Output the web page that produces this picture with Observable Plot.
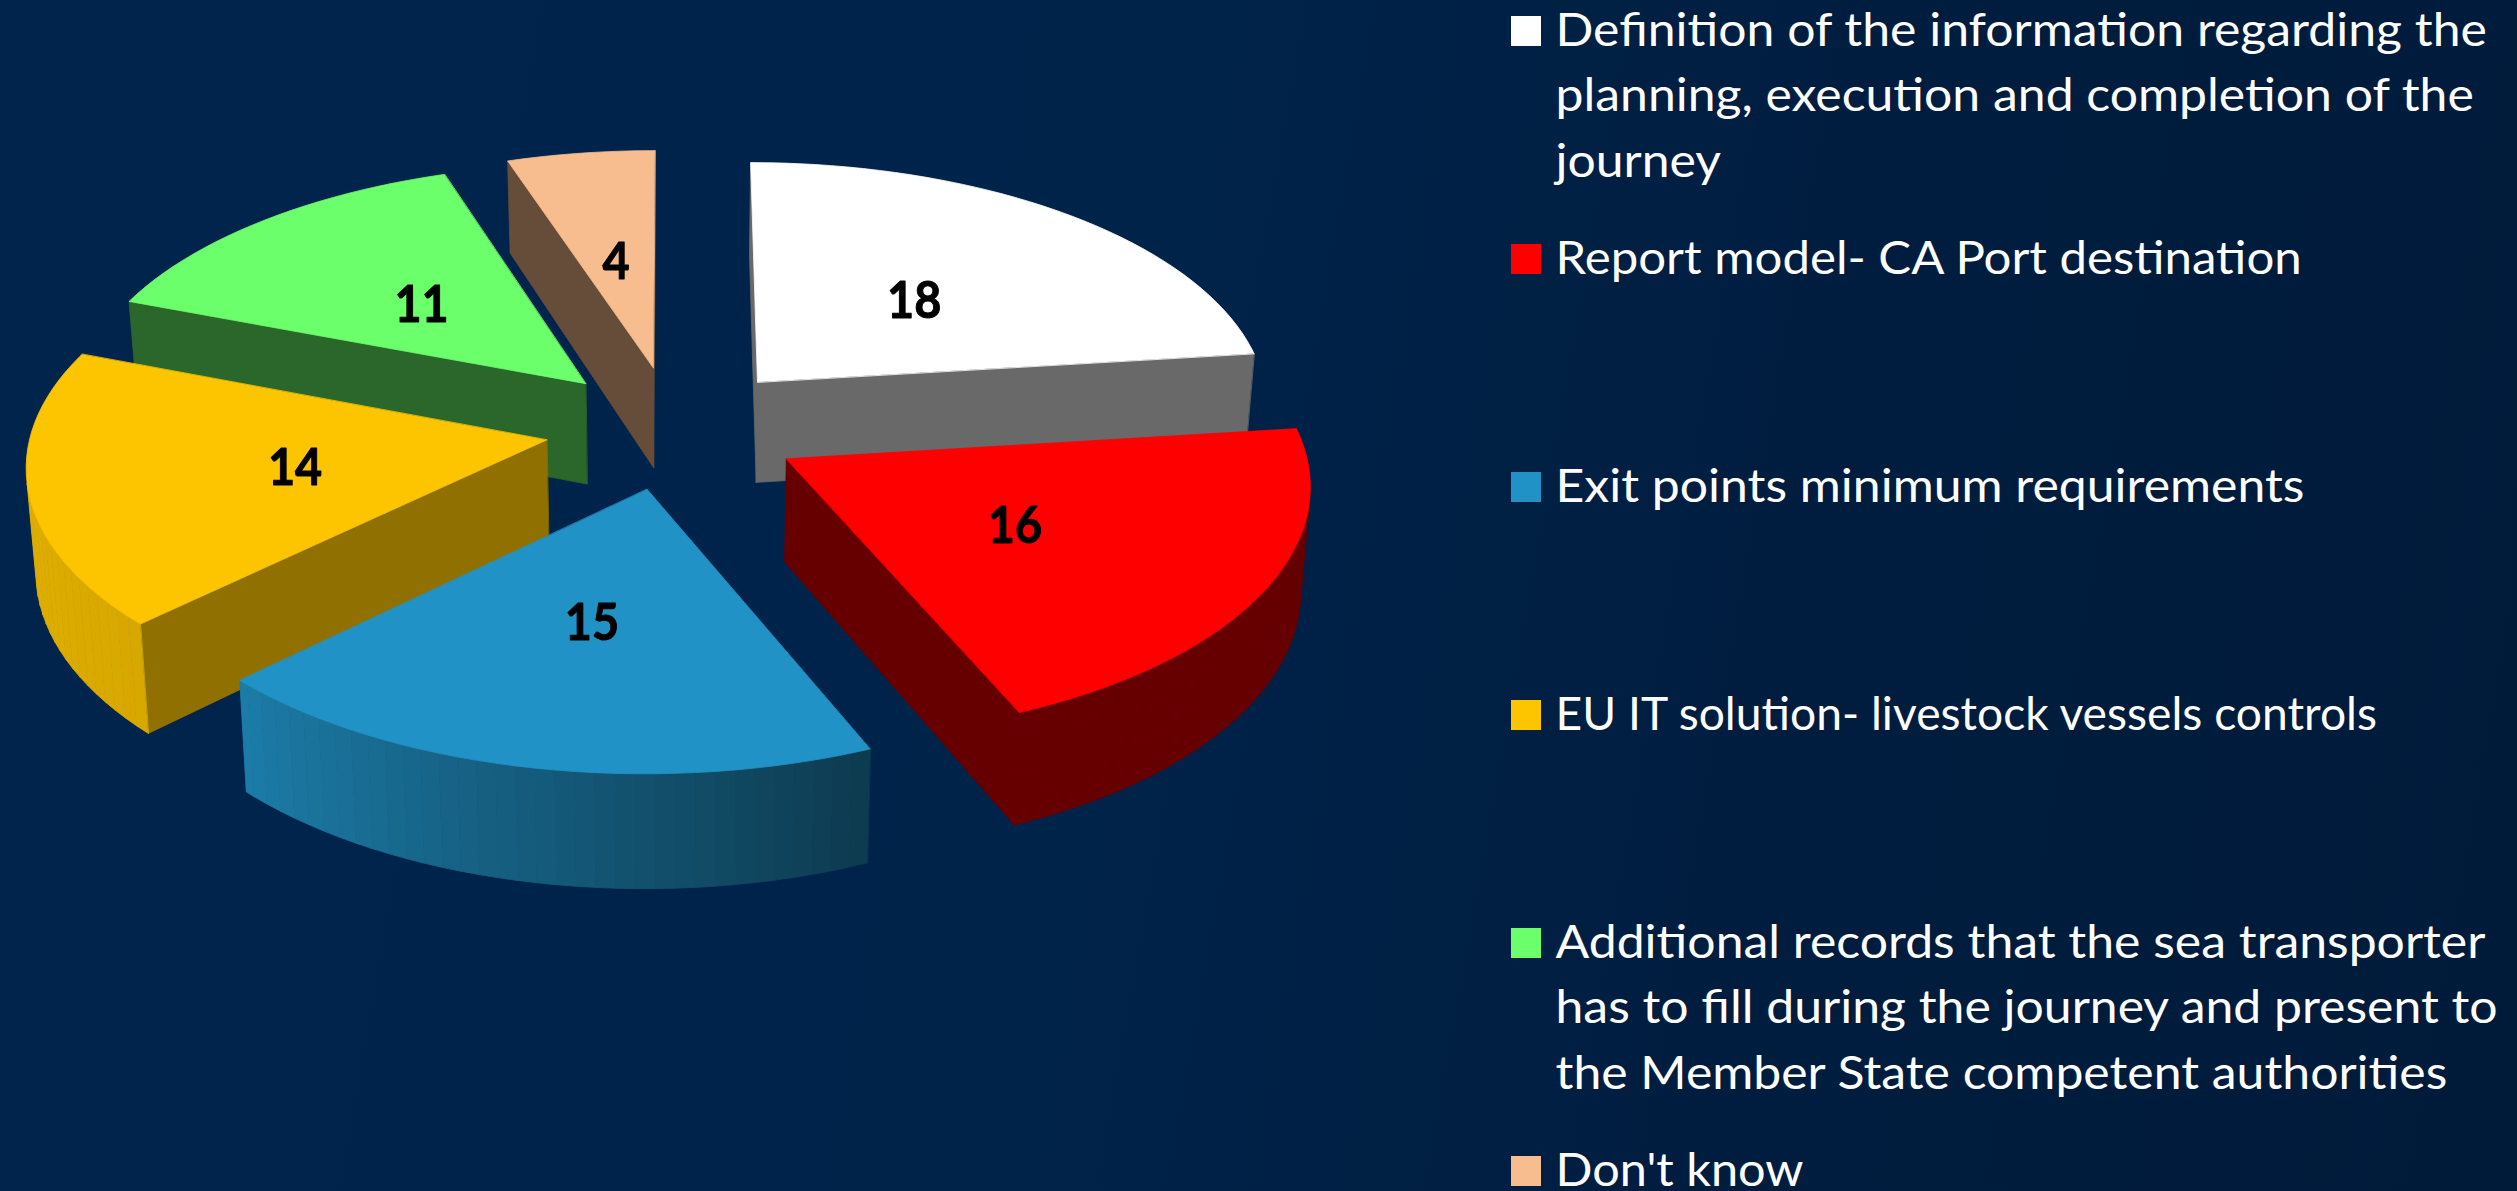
<!DOCTYPE html>
<html>
<head>
<meta charset="utf-8">
<script src="https://cdn.jsdelivr.net/npm/d3@7"></script>
<script src="https://cdn.jsdelivr.net/npm/@observablehq/plot@0.6"></script>
<style>
html,body{margin:0;padding:0;background:#001c3d;overflow:hidden}
svg{display:block}
</style>
</head>
<body>
<div id="chart"></div>
<script>
// ---- chart values
const categories = [
  ["Definition of the information regarding the", "planning, execution and completion of the", "journey"],
  ["Report model- CA Port destination"],
  ["Exit points minimum requirements"],
  ["EU IT solution- livestock vessels controls"],
  ["Additional records that the sea transporter", "has to fill during the journey and present to", "the Member State competent authorities"],
  ["Don't know"]
];
const values = [18, 16, 15, 14, 11, 4];
const palette = ["#ffffff", "#ff0000", "#2192c6", "#fdc500", "#6bff6b", "#f8bd8e"];
const cutShade = [0.41, 0.4, 0.4, 0.57, 0.4, 0.41];
const drawOrder = [5, 0, 4, 1, 3, 2];
const rowFit = [1, 0.985, 1, 0.926, 1, 0.975];

// ---- 3D pie projection parameters
const W = 2517, H = 1191;
const view = {cx: 673, cy: 427, A: 515, B: 247, explode: 0.25, persp: 0.09, depth: 102, shrink: 0.985, step: 2};
const legend = {square: 1511, squareSize: 30, text: 1555, first: 45, row: 228, line: 65.5, size: 46, stretch: 1.085};
const labelRadius = 0.49;

const total = d3.sum(values);
const rad = d => d * Math.PI / 180;
const ends = Array.from(d3.cumsum(values), v => v / total * 360);
const slices = values.map((v, i) => ({
  i, v, a0: i ? ends[i - 1] : 0, a1: ends[i], mid: (i ? ends[i - 1] : 0) / 2 + ends[i] / 2
}));

function project(X, Yv, bottom) {
  const s = 1 / (1 - view.persp * Yv);
  const q = bottom ? view.shrink : 1;
  return {
    x: view.cx + view.A * X * s * q,
    y: view.cy + view.B * Yv * s + (bottom ? view.depth * s : 0)
  };
}
function world(slice, angle, r) {
  const m = rad(slice.mid), a = rad(angle);
  return [view.explode * Math.sin(m) + r * Math.sin(a), -view.explode * Math.cos(m) - r * Math.cos(a)];
}
const arcShade = d3.scaleLinear().domain([0, 157, 226, 290, 360]).range([0.4, 0.4, 0.85, 0.92, 0.92]);
const darken = (c, k) => { const q = d3.rgb(c); return d3.rgb(q.r * k, q.g * k, q.b * k).formatHex(); };
const area = pts => d3.sum(pts, (p, i) => { const n = pts[(i + 1) % pts.length]; return p.x * n.y - n.x * p.y; });

const polys = [];
function addPoly(pts, fill) {
  const id = polys.length ? polys[polys.length - 1].id + 1 : 0;
  pts.forEach(p => polys.push({x: p.x, y: p.y, id, fill}));
}
for (const i of drawOrder) {
  const s = slices[i], col = palette[i];
  const angles = d3.range(s.a0, s.a1, view.step).concat([s.a1]);
  const apexW = world(s, 0, 0);
  const top = [project(...apexW, false), ...angles.map(a => project(...world(s, a, 1), false))];
  const bot = [project(...apexW, true), ...angles.map(a => project(...world(s, a, 1), true))];
  // side faces: only those turned towards the viewer
  const quad = k => { const n = (k + 1) % top.length; return [top[k], top[n], bot[n], bot[k]]; };
  const cuts = [0, top.length - 1];
  for (const k of cuts) { const q = quad(k); if (area(q) < 0) addPoly(q, darken(col, cutShade[i])); }
  for (let k = 1; k < top.length - 1; k++) {
    const q = quad(k);
    if (area(q) < 0) addPoly(q, darken(col, arcShade((angles[k - 1] + angles[k]) / 2)));
  }
  addPoly(top, col);
}

const labels = slices.map(s => {
  const [X, Yv] = world(s, s.mid, labelRadius);
  return {...project(X, Yv, false), text: String(s.v), fit: 1};
});

const legendRows = categories.map((c, i) => ({i, base: legend.first + i * legend.row, fill: palette[i]}));
const legendLines = categories.flatMap((c, i) =>
  c.map((t, j) => ({t, y: legend.first + i * legend.row + j * legend.line, fit: rowFit[i]})));

// stretches glyphs horizontally to mimic the reference's proportions
const stretch = (k, rows) => (index, scales, vals, dims, ctx, next) => {
  const g = next(index, scales, vals, dims, ctx);
  g.querySelectorAll("text").forEach((t, n) =>
    t.setAttribute("transform", (t.getAttribute("transform") || "") + ` scale(${k * rows[index[n]].fit},1)`));
  return g;
};

const chart = Plot.plot({
  width: W, height: H, margin: 0,
  x: {domain: [0, W], range: [0, W], axis: null},
  y: {domain: [0, H], range: [0, H], axis: null},
  color: {type: "identity"},
  style: {background: "linear-gradient(100deg,#00244c 0%,#00234a 45%,#001d3f 70%,#001b3a 100%)", overflow: "hidden"},
  marks: [
    Plot.line(polys, {x: "x", y: "y", z: "id", fill: "fill", stroke: "fill", strokeWidth: 0.8, curve: "linear-closed"}),
    Plot.text(labels, {x: "x", y: "y", dy: 4, text: "text", fontFamily: "Lato", fontWeight: 700, fontSize: 52, fill: "#000", stroke: "#000", strokeWidth: 1, textAnchor: "middle", render: stretch(0.9, labels)}),
    Plot.rect(legendRows, {
      x1: () => legend.square, x2: () => legend.square + legend.squareSize,
      y1: d => d.base - legend.squareSize + 1, y2: d => d.base + 1, fill: "fill"
    }),
    Plot.text(legendLines, {x: () => legend.text, y: "y", text: "t", fontFamily: "Lato", fontSize: legend.size, fill: "#fff", textAnchor: "start", lineAnchor: "bottom", render: stretch(legend.stretch, legendLines)})
  ]
});
document.getElementById("chart").appendChild(chart);
</script>
</body>
</html>
